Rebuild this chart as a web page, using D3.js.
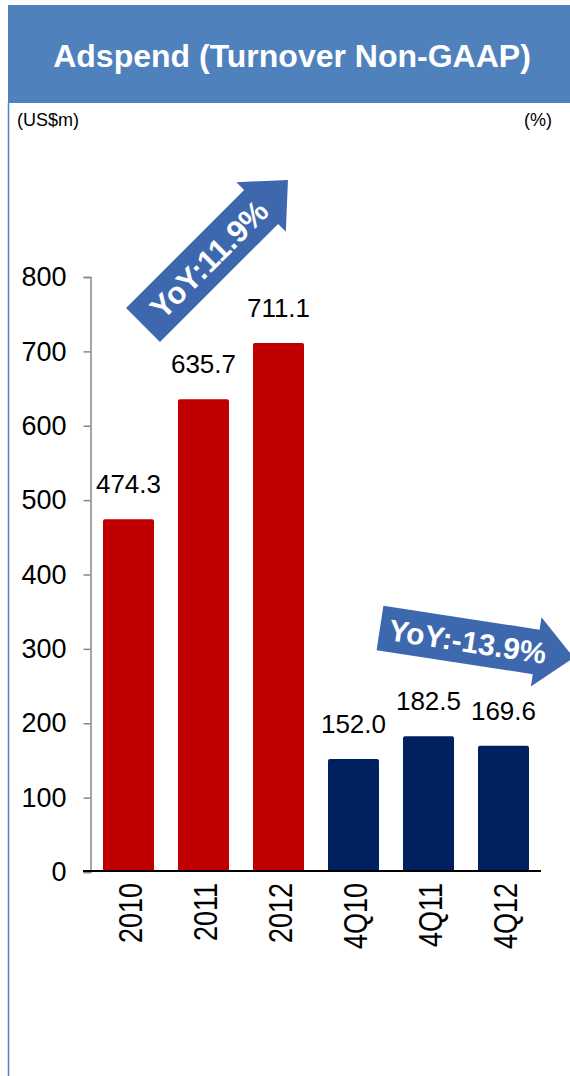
<!DOCTYPE html>
<html><head><meta charset="utf-8">
<script src="https://cdn.jsdelivr.net/npm/d3@7"></script>
<style>html,body{margin:0;padding:0;background:#fff;}svg{display:block;font-family:"Liberation Sans",Arial,sans-serif;}</style>
</head><body>
<svg id="c" width="570" height="1076"></svg>
<script>
const categories = ["2010","2011","2012","4Q10","4Q11","4Q12"];
const values = [474.3, 635.7, 711.1, 152.0, 182.5, 169.6];
const valueLabels = ["474.3","635.7","711.1","152.0","182.5","169.6"];
const groups = ["annual","annual","annual","quarter","quarter","quarter"];
const yTicks = [0,100,200,300,400,500,600,700,800];
const title = "Adspend (Turnover Non-GAAP)";
const leftUnit = "(US$m)";
const rightUnit = "(%)";
const arrowTexts = ["YoY:11.9%", "YoY:-13.9%"];

const svg = d3.select("#c");
const blue = "#4f81bd";
const arrowBlue = "#3d68ad";

// header
svg.append("rect").attr("x",8).attr("y",5).attr("width",562).attr("height",98).attr("fill",blue);
svg.append("text").attr("x",292).attr("y",67).attr("text-anchor","middle")
  .attr("font-size",32).attr("font-weight","bold").attr("fill","#fff").text(title);
svg.append("line").attr("x1",8.5).attr("x2",8.5).attr("y1",103).attr("y2",1076)
  .attr("stroke",blue).attr("stroke-width",1.5);
svg.append("text").attr("x",17).attr("y",126).attr("font-size",18).attr("fill","#000").text(leftUnit);
svg.append("text").attr("x",552).attr("y",126).attr("text-anchor","end").attr("font-size",18).attr("fill","#000").text(rightUnit);

// scales
const x = d3.scaleBand().domain(categories).range([91,541]).paddingInner(0.32).paddingOuter(0.16);
const y = d3.scaleLinear().domain([0,800]).range([872,277]);
const color = d3.scaleOrdinal().domain(["annual","quarter"]).range(["#c00000","#002060"]);

// y axis
const yAxis = svg.append("g").attr("transform","translate(90.5,0)")
  .call(d3.axisLeft(y).tickValues(yTicks).tickSize(7).tickPadding(17).tickFormat(d3.format("d")));
yAxis.select(".domain").attr("stroke","#888").attr("stroke-width",1.5);
yAxis.selectAll(".tick line").attr("stroke","#888").attr("stroke-width",1.5);
yAxis.selectAll(".tick text").attr("font-size",27).attr("fill","#000")
  .attr("font-family","Liberation Sans, Arial, sans-serif");

// bars
svg.selectAll("rect.bar").data(categories).enter().append("rect").attr("class","bar")
  .attr("x",d=>x(d)).attr("width",x.bandwidth())
  .attr("y",(d,i)=>y(values[i])).attr("height",(d,i)=>y(0)-y(values[i]))
  .attr("rx",2).attr("fill",(d,i)=>color(groups[i]));

// baseline
svg.append("line").attr("x1",83).attr("x2",541).attr("y1",871).attr("y2",871)
  .attr("stroke","#000").attr("stroke-width",2);

// value labels
svg.selectAll("text.val").data(categories).enter().append("text").attr("class","val")
  .attr("x",d=>x(d)+x.bandwidth()/2).attr("y",(d,i)=>y(values[i])-26)
  .attr("text-anchor","middle").attr("font-size",26).attr("fill","#000")
  .text((d,i)=>valueLabels[i]);

// x labels
svg.selectAll("text.xl").data(categories).enter().append("text").attr("class","xl")
  .attr("transform",d=>`translate(${x(d)+x.bandwidth()/2+13},883) rotate(-90) scale(1,1.2)`)
  .attr("text-anchor","end").attr("font-size",27).attr("fill","#000").text(d=>d);

// arrows
function arrow(cx, cy, angle, shaftLen, shaftW, headLen, headW, label, fs){
  const g = svg.append("g").attr("transform",`translate(${cx},${cy}) rotate(${angle})`);
  const p = d3.path();
  p.moveTo(0,-shaftW/2); p.lineTo(shaftLen,-shaftW/2); p.lineTo(shaftLen,-headW/2);
  p.lineTo(shaftLen+headLen,0); p.lineTo(shaftLen,headW/2); p.lineTo(shaftLen,shaftW/2);
  p.lineTo(0,shaftW/2); p.closePath();
  g.append("path").attr("d",p.toString()).attr("fill",arrowBlue);
  g.append("text").attr("x",(shaftLen+headLen*0.3)/2+4).attr("y",fs*0.36).attr("text-anchor","middle")
    .attr("font-size",fs).attr("font-weight","bold").attr("fill","#fff").text(label);
}
arrow(143,325,-45,167,48,38,70,arrowTexts[0],31);
arrow(380,628,8.7,158,45,38,70,arrowTexts[1],30);
</script>
</body></html>
